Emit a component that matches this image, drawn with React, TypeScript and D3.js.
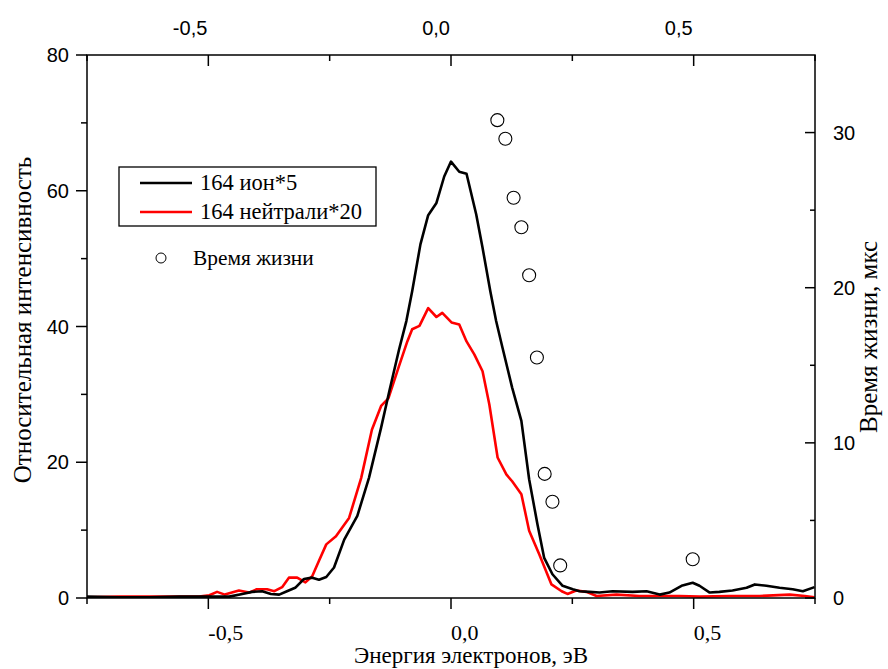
import React from "react";
import * as d3 from "d3";

const width = 888;
const height = 669;
const margin = { top: 55, right: 73, bottom: 71, left: 87 };

// 164 ион*5 (black)
const ionX = [
  -0.75, -0.684, -0.622, -0.56, -0.519, -0.488, -0.457, -0.43, -0.41, -0.389, -0.371, -0.354,
  -0.338, -0.321, -0.303, -0.286, -0.272, -0.257, -0.241, -0.22, -0.193, -0.169, -0.144, -0.127,
  -0.107, -0.092, -0.08, -0.063, -0.047, -0.03, -0.014, 0.0, 0.017, 0.032, 0.052, 0.065, 0.081,
  0.093, 0.106, 0.126, 0.145, 0.161, 0.178, 0.192, 0.209, 0.23, 0.251, 0.265, 0.285, 0.306, 0.333,
  0.374, 0.403, 0.43, 0.45, 0.475, 0.498, 0.512, 0.533, 0.553, 0.58, 0.609, 0.626, 0.65, 0.677,
  0.704, 0.725, 0.749,
];
const ionY = [
  0.2, 0.1, 0.1, 0.2, 0.2, 0.2, 0.2, 0.6, 0.9, 1.0, 0.6, 0.5,
  1.0, 1.5, 2.8, 3.0, 2.7, 3.1, 4.5, 8.6, 12.1, 17.7, 25.1, 30.5,
  36.6, 40.8, 45.2, 52.1, 56.4, 58.2, 62.1, 64.3, 62.8, 62.5, 56.5, 51.6, 45.2,
  40.8, 36.9, 31.0, 26.1, 17.5, 10.9, 5.9, 3.5, 1.8, 1.3, 1.0, 0.9, 0.8, 1.0,
  0.9, 1.0, 0.5, 0.8, 1.8, 2.25, 1.8, 0.8, 0.9, 1.1, 1.5, 2.0, 1.8, 1.5,
  1.3, 1.0, 1.6,
];

// 164 нейтрали*20 (red)
const neutralX = [
  -0.75, -0.684, -0.622, -0.56, -0.519, -0.498, -0.482, -0.466, -0.437, -0.416, -0.4, -0.379,
  -0.364, -0.348, -0.334, -0.317, -0.3, -0.286, -0.272, -0.257, -0.237, -0.21, -0.185, -0.163,
  -0.144, -0.129, -0.107, -0.09, -0.08, -0.065, -0.047, -0.03, -0.018, 0.001, 0.017, 0.032,
  0.048, 0.065, 0.079, 0.096, 0.114, 0.126, 0.145, 0.161, 0.182, 0.207, 0.228, 0.24, 0.258,
  0.279, 0.3, 0.341, 0.388, 0.43, 0.471, 0.512, 0.574, 0.636, 0.698, 0.729, 0.749,
];
const neutralY = [
  0.1, 0.2, 0.2, 0.2, 0.2, 0.4, 0.9, 0.5, 1.1, 0.8, 1.3, 1.3,
  1.0, 1.6, 3.0, 3.0, 2.3, 3.2, 5.5, 7.9, 9.1, 11.8, 17.7, 24.8,
  28.3, 29.4, 34.2, 37.8, 39.6, 40.1, 42.7, 41.4, 42.0, 40.6, 40.3, 37.8,
  35.9, 33.4, 28.5, 20.7, 18.2, 17.2, 15.3, 9.9, 6.4, 2.0, 1.0, 0.6, 1.1,
  0.9, 0.3, 0.5, 0.3, 0.3, 0.3, 0.2, 0.3, 0.3, 0.5, 0.3, 0.1,
];

// Время жизни (circles, right axis)
const lifeX = [0.0955, 0.112, 0.129, 0.145, 0.161, 0.177, 0.193, 0.209, 0.225, 0.498];
const lifeY = [30.8, 29.6, 25.8, 23.9, 20.8, 15.5, 8.0, 6.2, 2.1, 2.5];

const xTicks = [-0.5, 0, 0.5];
const xMinor = [-0.75, -0.25, 0.25, 0.75];
const yLeftTicks = [0, 20, 40, 60, 80];
const yLeftMinor = [10, 30, 50, 70];
const yRightTicks = [0, 10, 20, 30];
const yRightMinor = [5, 15, 25];

const locale = d3.formatLocale({
  decimal: ",",
  thousands: " ",
  grouping: [3],
  currency: ["", ""],
  minus: "-",
});
const fmt = locale.format(".1f");

const sans = "Arial, 'Liberation Sans', sans-serif";
const serif = "'Times New Roman', 'Liberation Serif', serif";

const App = () => {
  const x0 = margin.left;
  const x1 = width - margin.right;
  const y0 = height - margin.bottom;
  const y1 = margin.top;

  const xScale = d3.scaleLinear().domain([-0.75, 0.75]).range([x0, x1]);
  const yLeft = d3.scaleLinear().domain([0, 80]).range([y0, y1]);
  const yRight = d3.scaleLinear().domain([0, 35]).range([y0, y1]);

  const line = d3
    .line<[number, number]>()
    .x(d => xScale(d[0]))
    .y(d => yLeft(d[1]));

  const ionPath = line(ionX.map((v, i) => [v, ionY[i]]));
  const neutralPath = line(neutralX.map((v, i) => [v, neutralY[i]]));

  return (
    <svg
      width={width}
      height={height}
      style={{ position: "absolute", left: 0, top: 0, background: "#fff" }}
    >
      <defs>
        <clipPath id="plot">
          <rect x={x0} y={y1} width={x1 - x0} height={y0 - y1} />
        </clipPath>
      </defs>

      {/* data */}
      <g clipPath="url(#plot)">
        <path d={neutralPath} fill="none" stroke="#ff0000" strokeWidth={2.6} strokeLinejoin="round" />
        <path d={ionPath} fill="none" stroke="#000" strokeWidth={2.6} strokeLinejoin="round" />
      </g>
      {lifeX.map((v, i) => (
        <circle
          key={i}
          cx={xScale(v)}
          cy={yRight(lifeY[i])}
          r={6.5}
          fill="none"
          stroke="#000"
          strokeWidth={1.1}
        />
      ))}

      {/* frame */}
      <rect x={x0} y={y1} width={x1 - x0} height={y0 - y1} fill="none" stroke="#000" strokeWidth={1.5} />

      {/* bottom axis: outward ticks */}
      {xTicks.map((t, i) => (
        <g key={"b" + i}>
          <line x1={xScale(t)} x2={xScale(t)} y1={y0} y2={y0 + 11} stroke="#000" strokeWidth={1.5} />
          <text x={xScale(t)} y={y0 + 42} fontFamily={serif} fontSize={22} textAnchor="start">
            {fmt(t)}
          </text>
        </g>
      ))}
      {xMinor.map((t, i) => (
        <line key={"bm" + i} x1={xScale(t)} x2={xScale(t)} y1={y0} y2={y0 + 6} stroke="#000" strokeWidth={1.5} />
      ))}

      {/* top axis: inward ticks */}
      {xTicks.map((t, i) => (
        <g key={"t" + i}>
          <line x1={xScale(t)} x2={xScale(t)} y1={y1} y2={y1 + 11} stroke="#000" strokeWidth={1.5} />
          <text x={xScale(t) - 1} y={35} fontFamily={sans} fontSize={20} textAnchor="end">
            {fmt(t)}
          </text>
        </g>
      ))}
      {xMinor.map((t, i) => (
        <line key={"tm" + i} x1={xScale(t)} x2={xScale(t)} y1={y1} y2={y1 + 6} stroke="#000" strokeWidth={1.5} />
      ))}

      {/* left axis: outward ticks */}
      {yLeftTicks.map((t, i) => (
        <g key={"l" + i}>
          <line x1={x0 - 11} x2={x0} y1={yLeft(t)} y2={yLeft(t)} stroke="#000" strokeWidth={1.5} />
          <text x={x0 - 18} y={yLeft(t)} dy="0.36em" fontFamily={sans} fontSize={20} textAnchor="end">
            {t}
          </text>
        </g>
      ))}
      {yLeftMinor.map((t, i) => (
        <line key={"lm" + i} x1={x0 - 6} x2={x0} y1={yLeft(t)} y2={yLeft(t)} stroke="#000" strokeWidth={1.5} />
      ))}

      {/* right axis: inward ticks */}
      {yRightTicks.map((t, i) => (
        <g key={"r" + i}>
          <line x1={x1 - 10} x2={x1} y1={yRight(t)} y2={yRight(t)} stroke="#000" strokeWidth={1.5} />
          <text x={x1 + 18} y={yRight(t)} dy="0.36em" fontFamily={sans} fontSize={20} textAnchor="start">
            {t}
          </text>
        </g>
      ))}
      {yRightMinor.map((t, i) => (
        <line key={"rm" + i} x1={x1 - 5} x2={x1} y1={yRight(t)} y2={yRight(t)} stroke="#000" strokeWidth={1.5} />
      ))}

      {/* axis titles */}
      <text x={471} y={663} fontFamily={serif} fontSize={23} textAnchor="middle">
        Энергия электронов, эВ
      </text>
      <text
        transform="translate(31,320) rotate(-90)"
        fontFamily={serif}
        fontSize={25}
        textAnchor="middle"
      >
        Относительная интенсивность
      </text>
      <text
        transform="translate(877,337) rotate(-90)"
        fontFamily={serif}
        fontSize={25}
        textAnchor="middle"
      >
        Время жизни, мкс
      </text>

      {/* legend */}
      <rect x={119} y={167} width={257} height={59} fill="#fff" stroke="#000" strokeWidth={1.3} />
      <line x1={140} x2={192} y1={183} y2={183} stroke="#000" strokeWidth={2.6} />
      <text x={200} y={190} fontFamily={serif} fontSize={22.5}>
        164 ион*5
      </text>
      <line x1={140} x2={192} y1={212} y2={212} stroke="#ff0000" strokeWidth={2.6} />
      <text x={200} y={219} fontFamily={serif} fontSize={22.5}>
        164 нейтрали*20
      </text>
      <circle cx={161} cy={258} r={5} fill="none" stroke="#000" strokeWidth={1} />
      <text x={193} y={265} fontFamily={serif} fontSize={21.4}>
        Время жизни
      </text>
    </svg>
  );
};

export default App;
